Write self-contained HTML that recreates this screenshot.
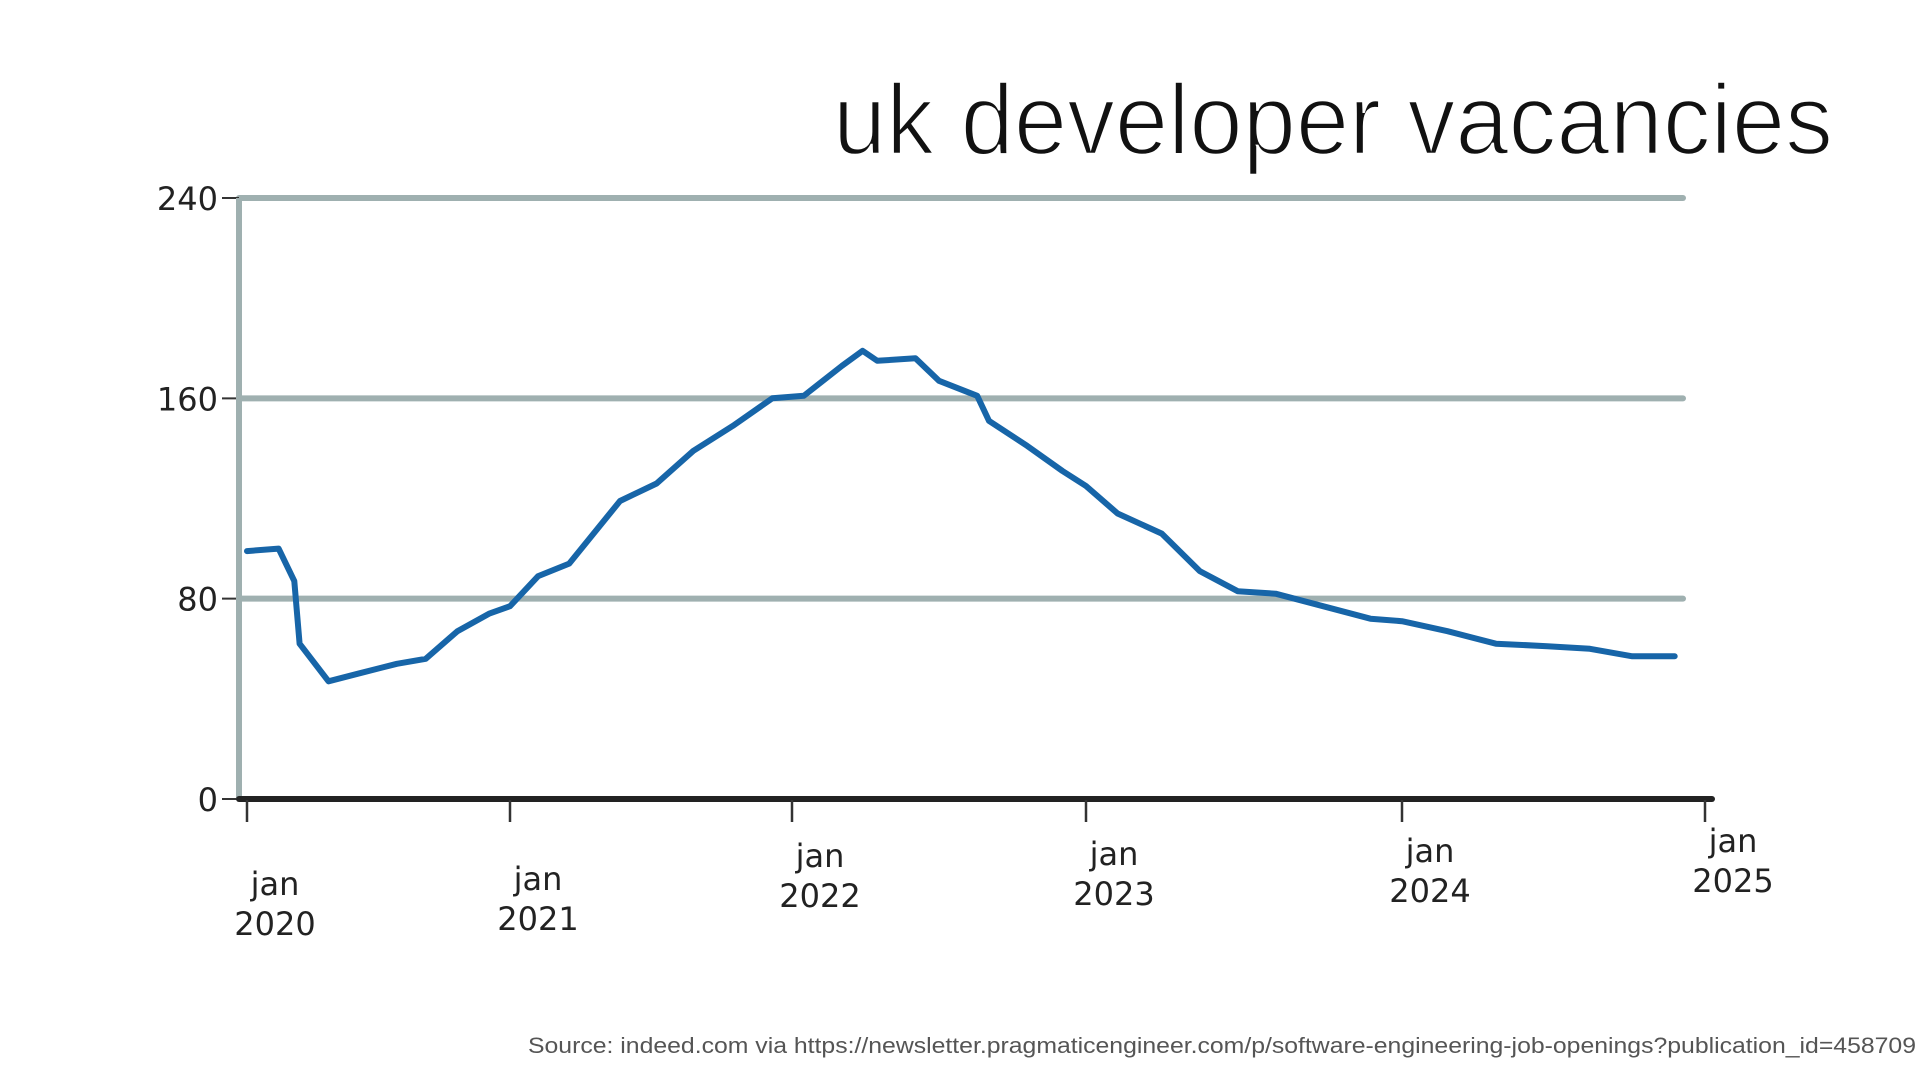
<!DOCTYPE html>
<html>
<head>
<meta charset="utf-8">
<style>
  html,body{margin:0;padding:0;background:#fff;}
  svg{display:block;}
  .hand{font-family:"DejaVu Sans","Liberation Sans",sans-serif;font-weight:normal;fill:#222;}
</style>
</head>
<body>
<svg id="chart" width="1920" height="1080" viewBox="0 0 1920 1080" xmlns="http://www.w3.org/2000/svg">
  <text x="1833" y="154" text-anchor="end" textLength="1000" lengthAdjust="spacingAndGlyphs" font-family="Liberation Sans, sans-serif" font-size="100" fill="#111" stroke="#fff" stroke-width="2.5">uk developer vacancies</text>
  <g id="grid"></g>
  <g id="axes"></g>
  <g id="series"></g>
  <text x="1916" y="1053" text-anchor="end" textLength="1388" lengthAdjust="spacingAndGlyphs" font-family="Liberation Sans, sans-serif" font-size="22" fill="#555">Source: indeed.com via https://newsletter.pragmaticengineer.com/p/software-engineering-job-openings?publication_id=458709</text>
</svg>
<script>
const yTicks = [0, 80, 160, 240];
const xTickYears = [2020, 2021, 2022, 2023, 2024, 2025];
const dates = [2020.0,2020.12,2020.18,2020.2,2020.31,2020.42,2020.57,2020.68,2020.8,2020.92,2021.0,2021.1,2021.21,2021.39,2021.52,2021.65,2021.79,2021.93,2022.04,2022.17,2022.24,2022.29,2022.42,2022.5,2022.63,2022.67,2022.8,2022.92,2023.0,2023.1,2023.24,2023.36,2023.48,2023.6,2023.75,2023.9,2024.0,2024.15,2024.31,2024.48,2024.62,2024.76,2024.9];
const values = [99,100,87,62,47,50,54,56,67,74,77,89,94,119,126,139,149,160,161,173,179,175,176,167,161,151,141,131,125,114,106,91,83,82,77,72,71,67,62,61,60,57,57];

const NS = "http://www.w3.org/2000/svg";
const tickPx = [247,510,792,1086,1402,1705];
function xScale(d){
  for(let i=0;i<xTickYears.length-1;i++){
    if(d<=xTickYears[i+1]||i===xTickYears.length-2){
      const t=(d-xTickYears[i])/(xTickYears[i+1]-xTickYears[i]);
      return tickPx[i]+t*(tickPx[i+1]-tickPx[i]);
    }
  }
}
function yScale(v){ return 799 - v*(799-198)/240; }
function mk(tag, attrs, parent){
  const e=document.createElementNS(NS,tag);
  for(const k in attrs) e.setAttribute(k,attrs[k]);
  parent.appendChild(e); return e;
}
const grid=document.getElementById('grid'), axes=document.getElementById('axes'), series=document.getElementById('series');

yTicks.forEach(v=>{
  const y=yScale(v);
  if(v>0){
    const l=mk('line',{x1:239,x2:1683,y1:y,y2:y,stroke:'#9fb0b0','stroke-width':6,'stroke-linecap':'round'},grid);
    
    
  }
  const tk=mk('line',{x1:222,x2:239,y1:y,y2:y,stroke:'#333','stroke-width':2},axes);
  
  
  const t=mk('text',{x:218,y:y+12,'text-anchor':'end','font-size':32,class:'hand'},axes);
  t.textContent=v;
  
  
});
const yAxis=mk('line',{x1:239,x2:239,y1:198,y2:799,stroke:'#9fb0b0','stroke-width':6},axes);


const zero=mk('line',{x1:239,x2:1712,y1:799,y2:799,stroke:'#222','stroke-width':6,'stroke-linecap':'round'},axes);



const labelDy=[0,-5,-28,-30,-33,-43];
xTickYears.forEach((yr,i)=>{
  const x=xScale(yr);
  const tk=mk('line',{x1:x,x2:x,y1:800,y2:822,stroke:'#333','stroke-width':2.5},axes);
  
  
  const t=mk('text',{x:x+28,y:895+labelDy[i],'text-anchor':'middle','font-size':32,class:'hand'},axes);
  
  
  const a=mk('tspan',{x:x+28,dy:0},t); a.textContent='jan';
  const b=mk('tspan',{x:x+28,dy:40},t); b.textContent=String(yr);
});

let d='';
dates.forEach((dt,i)=>{ d+=(i?'L':'M')+xScale(dt).toFixed(1)+','+yScale(values[i]).toFixed(1); });
const path=mk('path',{d:d,fill:'none',stroke:'#1765a8','stroke-width':6,'stroke-linejoin':'round','stroke-linecap':'round'},series);


</script>
</body>
</html>
